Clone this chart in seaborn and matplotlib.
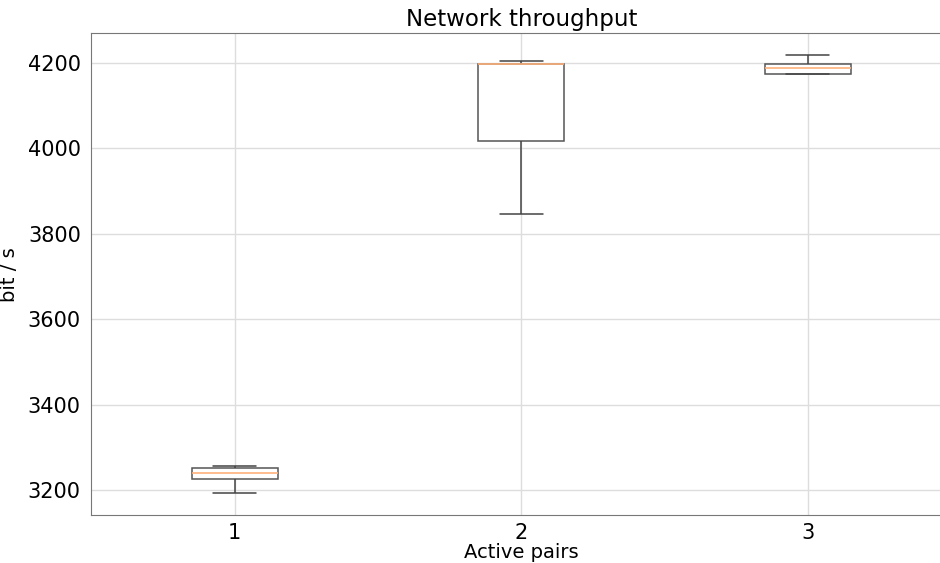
import numpy as np
import pandas as pd
import matplotlib
matplotlib.use("Agg")
import matplotlib.pyplot as plt
import seaborn as sns

# five values per group: min, q1, median, q3, max
pairs = ["1", "2", "3"]
pair1 = [3194, 3226, 3240, 3252, 3257]
pair2 = [3847, 4017, 4197, 4197, 4205]
pair3 = [4175, 4175, 4188, 4197, 4219]

df = pd.DataFrame({
    "pairs": np.repeat(pairs, 5),
    "throughput": pair1 + pair2 + pair3,
})

sns.set_style("white")
plt.rcParams['font.family'] = ['DejaVu Sans']
plt.rcParams['text.color'] = 'black'
plt.rcParams['axes.labelcolor'] = 'black'
plt.rcParams['xtick.color'] = 'black'
plt.rcParams['ytick.color'] = 'black'

fig = plt.figure(figsize=(9.4, 5.63), dpi=100)
ax = fig.add_axes([0.097, 0.085, 0.915, 0.856])

sns.boxplot(data=df, x="pairs", y="throughput", order=pairs, width=0.3,
            color="white", linecolor="#555555", linewidth=1.1,
            whis=1.5, showfliers=False, ax=ax,
            medianprops={"color": "#ffb27a", "linewidth": 1.2},
            whiskerprops={"color": "#444444"},
            capprops={"color": "#444444"})

ax.set_xlim(-0.5, 2.5)
ax.set_ylim(3141, 4270)
ax.set_yticks([3200, 3400, 3600, 3800, 4000, 4200])
ax.grid(True, color="#dddddd", linewidth=1)
ax.set_axisbelow(True)
for s in ax.spines.values():
    s.set_color("#777777")

ax.tick_params(axis="both", labelsize=15, length=4, color="#777777")
ax.tick_params(axis="x", pad=2)
ax.set_title("Network throughput", fontsize=16.5, pad=5)
ax.set_xlabel("Active pairs", fontsize=14, labelpad=0)
ax.set_ylabel("bit / s", fontsize=14, labelpad=6)

fig.savefig("out.png", dpi=100)
